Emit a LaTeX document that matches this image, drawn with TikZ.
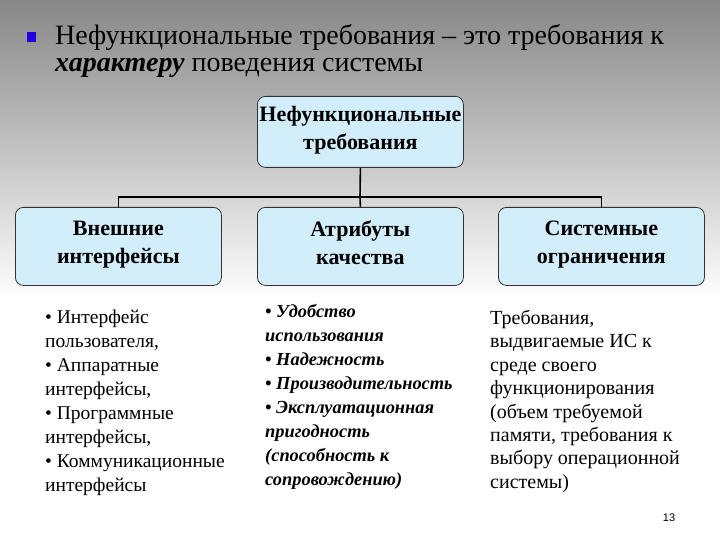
\documentclass[tikz,border=0pt]{standalone}
\usepackage{fontspec}
\setmainfont{Liberation Serif}
\setsansfont{Liberation Sans}
\definecolor{boxfill}{HTML}{D2EEFA}
\begin{document}
\begin{tikzpicture}[x=1pt,y=-1pt,
  box/.style={draw=black!80,line width=0.8pt,rounded corners=8pt,fill=boxfill,minimum width=206pt,minimum height=78pt,align=center,font=\bfseries\fontsize{22}{28}\selectfont,anchor=north west,inner sep=0pt,execute at begin node={\strut},execute at end node={\strut}},
  lst/.style={align=left,anchor=north west,font=\fontsize{19.5}{24}\selectfont,inner sep=0pt},
  conn/.style={line width=1.6pt}]
\useasboundingbox (0,0) rectangle (720,540);
\shade[top color=black!47,bottom color=white] (0,0) rectangle (720,300);
\fill[blue!75!violet] (27,32) rectangle (36,42);
\node[anchor=north west,align=left,inner sep=0pt,font=\fontsize{28}{27}\selectfont] (title) at (55,24)
 {Нефункциональные требования – это требования к\\\textbf{\textit{характеру}} поведения системы};
\node[box,minimum height=71pt] (top) at (257,96) {Нефункциональные\\требования};
\node[box] (a) at (15,207) {Внешние\\интерфейсы};
\node[box] (b) at (257,207) {Атрибуты\\качества};
\node[box] (c) at (498,207) {Системные\\ограничения};
\coordinate (j) at (360,197);
\draw[conn] (top.south) -- (j);
\draw[conn] (a.north) |- (j) -| (c.north);
\draw[conn] (j) -- (b.north);
\node[lst] (la) at (45,310) {• Интерфейс\\пользователя,\\• Аппаратные\\интерфейсы,\\• Программные\\интерфейсы,\\• Коммуникационные\\интерфейсы};
\node[lst,font=\bfseries\itshape\fontsize{18.4}{24}\selectfont] (lb) at (265,304) {• Удобство\\использования\\• Надежность\\• Производительность\\• Эксплуатационная\\пригодность\\(способность к\\сопровождению)};
\node[lst,font=\fontsize{20}{23.4}\selectfont] (lc) at (490,310) {Требования,\\выдвигаемые ИС к\\среде своего\\функционирования\\(объем требуемой\\памяти, требования к\\выбору операционной\\системы)};
\node[anchor=center,font=\sffamily\fontsize{11}{12}\selectfont] (pg) at (669,518) {13};
\end{tikzpicture}
\end{document}
